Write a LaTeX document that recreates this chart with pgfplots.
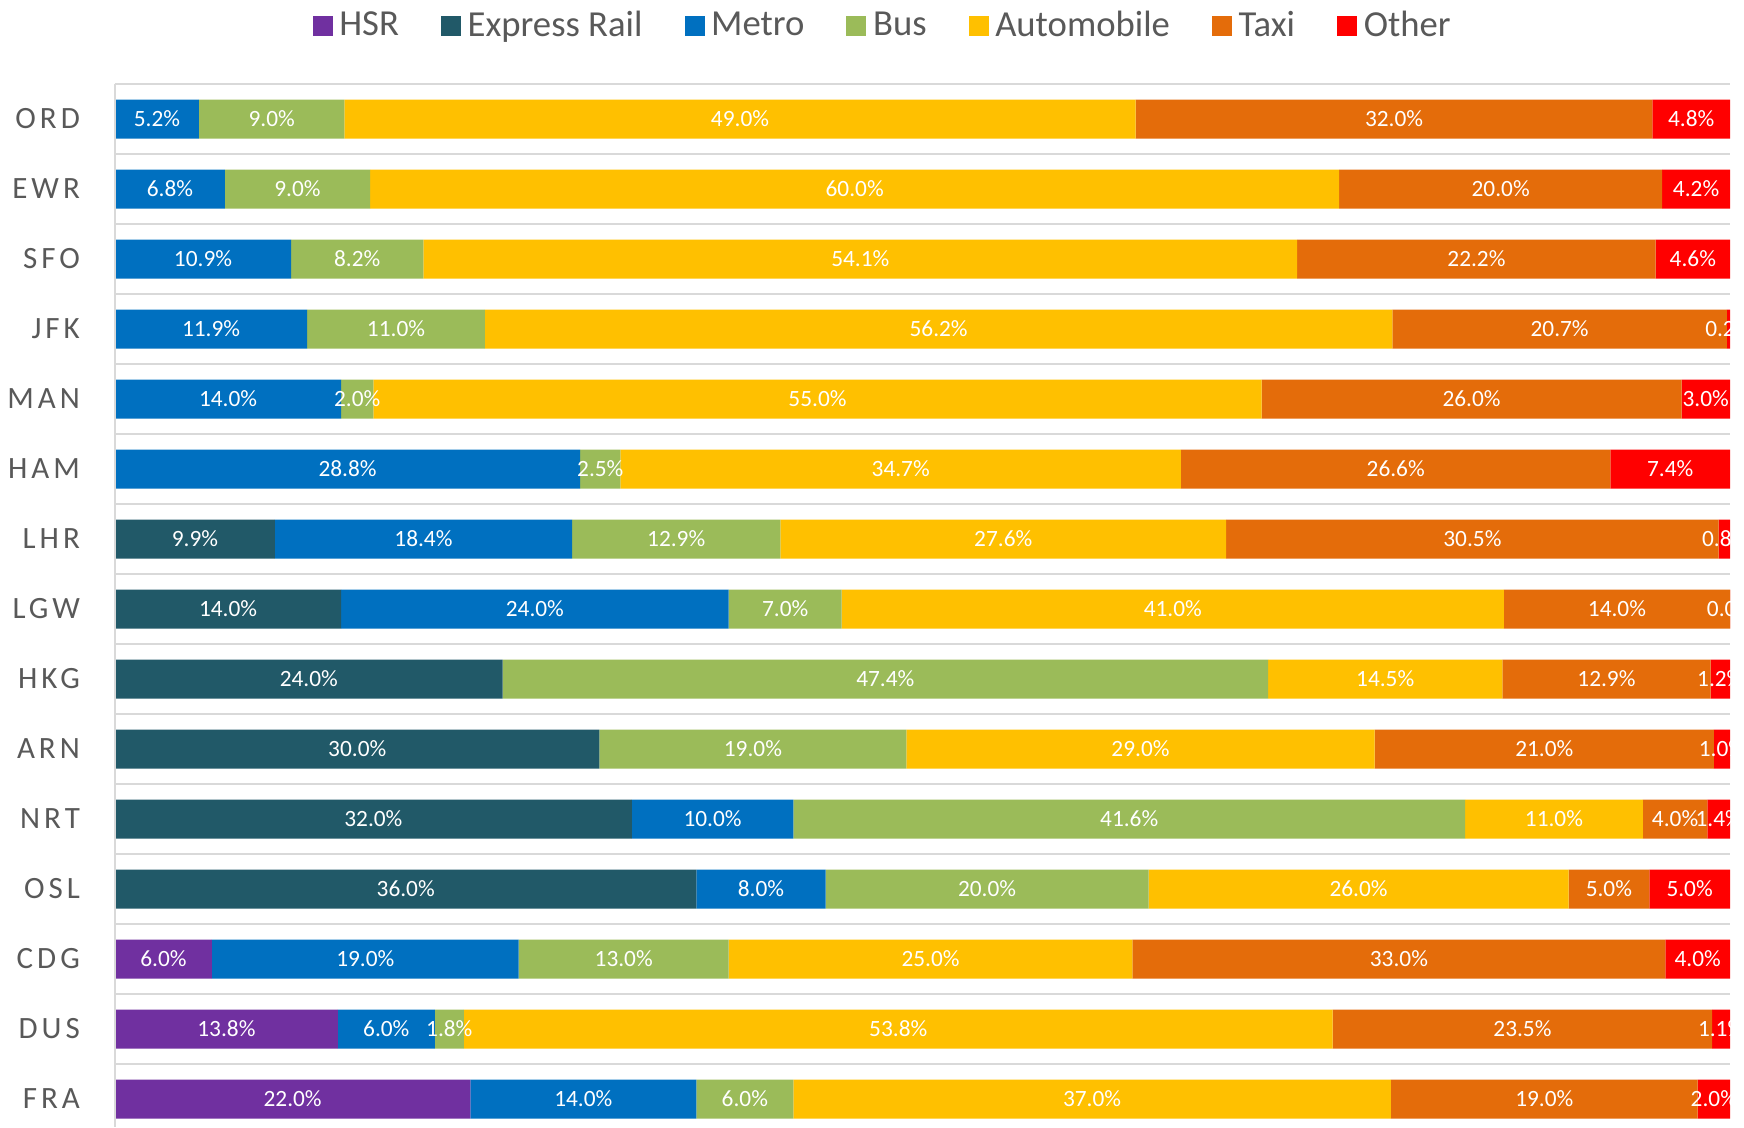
\documentclass[border=0pt]{standalone}
\usepackage{pgfplots}
\pgfplotsset{compat=1.18}
\usepackage{pgfplotstable}
\usepackage{fontspec}
\setmainfont{Carlito}
\newfontfamily\catfont[LetterSpace=13]{Carlito}
\definecolor{hsr}{HTML}{7030A0}
\definecolor{express}{HTML}{215968}
\definecolor{metro}{HTML}{0070C0}
\definecolor{bus}{HTML}{9BBB59}
\definecolor{autocol}{HTML}{FFC000}
\definecolor{taxi}{HTML}{E46C0A}
\definecolor{other}{HTML}{FF0000}
\definecolor{txtgray}{HTML}{595959}
\definecolor{gridgray}{HTML}{D9D9D9}

\pgfplotstableread{
idx cat hsr exp metro bus auto taxi other
0  ORD 0    0    5.2  9.0  49.0 32.0 4.8
1  EWR 0    0    6.8  9.0  60.0 20.0 4.2
2  SFO 0    0    10.9 8.2  54.1 22.2 4.6
3  JFK 0    0    11.9 11.0 56.2 20.7 0.2
4  MAN 0    0    14.0 2.0  55.0 26.0 3.0
5  HAM 0    0    28.8 2.5  34.7 26.6 7.4
6  LHR 0    9.9  18.4 12.9 27.6 30.5 0.8
7  LGW 0    14.0 24.0 7.0  41.0 14.0 0.01
8  HKG 0    24.0 0    47.4 14.5 12.9 1.2
9  ARN 0    30.0 0    19.0 29.0 21.0 1.0
10 NRT 0    32.0 10.0 41.6 11.0 4.0  1.4
11 OSL 0    36.0 8.0  20.0 26.0 5.0  5.0
12 CDG 6.0  0    19.0 13.0 25.0 33.0 4.0
13 DUS 13.8 0    6.0  1.8  53.8 23.5 1.1
14 FRA 22.0 0    14.0 6.0  37.0 19.0 2.0
}\datatable

\newcommand{\seg}[2]{\addplot[fill=#2,draw=none] table[x=#1,y=idx,meta=#1]{\datatable};}

\begin{document}
\begin{tikzpicture}
\begin{scope}
\clip (-34.5pt,2.1pt) rectangle (484.5pt,340.2pt);
\begin{axis}[
  at={(0,0)}, anchor=south west,
  scale only axis, width=484.5pt, height=315pt,
  xbar stacked, bar width=11.7pt,
  xmin=0, xmax=100, ymin=-0.5, ymax=14.5, y dir=reverse,
  axis line style={draw=none},
  xtick=\empty,
  ytick={0,...,14},
  yticklabels={ORD,EWR,SFO,JFK,MAN,HAM,LHR,LGW,HKG,ARN,NRT,OSL,CDG,DUS,FRA},
  major tick length=0pt, minor tick length=0pt,
  minor ytick={-0.5,0.5,...,14.5},
  yminorgrids, minor grid style={gridgray, line width=0.6pt},
  yticklabel style={font=\catfont\fontsize{9.3}{10}\selectfont, text=txtgray, xshift=-7pt},
  point meta=explicit,
  /pgf/number format/assume math mode=true,
  nodes near coords={\pgfmathfloatifflags{\pgfplotspointmeta}{0}{}{\pgfmathprintnumber[fixed,fixed zerofill,precision=1,assume math mode=true]{\pgfplotspointmeta}\%}},
  every node near coord/.append style={font=\fontsize{7}{8}\selectfont, text=white, anchor=center},
  legend style={at={(axis description cs:0.4768,1.055)}, anchor=center, draw=none, fill=none,
    legend columns=-1, font=\fontsize{11}{12}\selectfont, text=txtgray,
    /tikz/every even column/.append style={column sep=10.6pt}},
  legend image code/.code={\fill[#1] (0pt,-3pt) rectangle (6pt,3pt);},
  clip=false,
]
\draw[gridgray, line width=0.6pt] (axis description cs:0,0) -- (axis description cs:0,1);
\seg{hsr}{hsr}
\seg{exp}{express}
\seg{metro}{metro}
\seg{bus}{bus}
\seg{auto}{autocol}
\seg{taxi}{taxi}
\seg{other}{other}
\legend{HSR,Express Rail,Metro,Bus,Automobile,Taxi,Other}
\end{axis}
\end{scope}
\pgfresetboundingbox
\path[use as bounding box] (-34.5pt,2.1pt) rectangle (488.7pt,340.2pt);
\end{tikzpicture}
\end{document}
